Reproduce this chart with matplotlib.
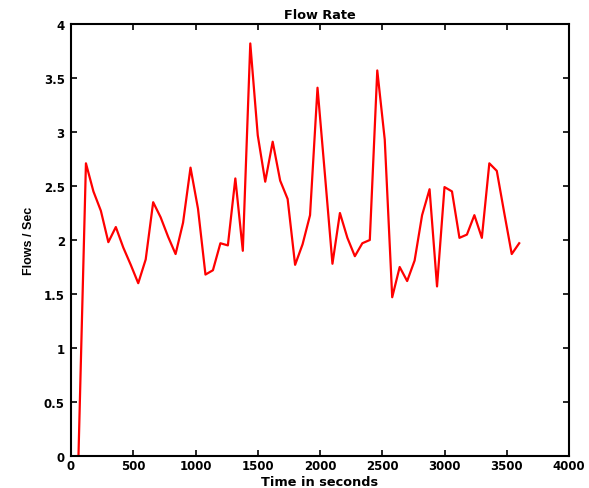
import matplotlib
matplotlib.use("Agg")
import matplotlib.pyplot as plt
import numpy as np

# sample times (s) and measured flow rate (flows/sec)
time_s = np.arange(60, 3601, 60)
flow_rate = [
    0.0, 2.71, 2.45, 2.27, 1.98, 2.12, 1.93, 1.77, 1.60, 1.82,
    2.35, 2.21, 2.03, 1.87, 2.16, 2.67, 2.29, 1.68, 1.72, 1.97,
    1.95, 2.57, 1.90, 3.82, 2.97, 2.54, 2.91, 2.55, 2.38, 1.77,
    1.96, 2.23, 3.41, 2.60, 1.78, 2.25, 2.02, 1.85, 1.97, 2.00,
    3.57, 2.93, 1.47, 1.75, 1.62, 1.81, 2.23, 2.47, 1.57, 2.49,
    2.45, 2.02, 2.05, 2.23, 2.02, 2.71, 2.64, 2.25, 1.87, 1.97,
]
x_ticks = [0, 500, 1000, 1500, 2000, 2500, 3000, 3500, 4000]
y_ticks = [0, 0.5, 1, 1.5, 2, 2.5, 3, 3.5, 4]

wide = ["DejaVu Sans"]
narrow = ["Liberation Sans", "DejaVu Sans"]

fig = plt.figure(figsize=(5.89, 4.89), dpi=100)
ax = fig.add_axes([71 / 589, 32 / 489, 498 / 589, 432 / 489])

ax.plot(time_s, flow_rate, color="red", linewidth=1.6)

ax.set_xlim(0, 4000)
ax.set_ylim(0, 4)
ax.set_xticks(x_ticks)
ax.set_yticks(y_ticks)
ax.set_xticklabels([str(v) for v in x_ticks], family=wide, weight="bold", size=8.5)
ax.set_yticklabels([f"{v:g}" for v in y_ticks], family=wide, weight="bold", size=8.5)

ax.tick_params(direction="in", length=4, width=1.2, top=True, right=True)
ax.tick_params(axis="x", pad=2.5)
ax.tick_params(axis="y", pad=4.5)
for side in ax.spines.values():
    side.set_linewidth(1.5)

ax.set_title("Flow Rate", family=wide, size=9.3, weight="bold", pad=4.5)
ax.set_xlabel("Time in seconds", family=wide, size=9.3, weight="bold",
              labelpad=1.5)
ax.set_ylabel("Flows / Sec", family=narrow, size=9, weight="bold",
              labelpad=6)

fig.savefig("out.png", dpi=100)
